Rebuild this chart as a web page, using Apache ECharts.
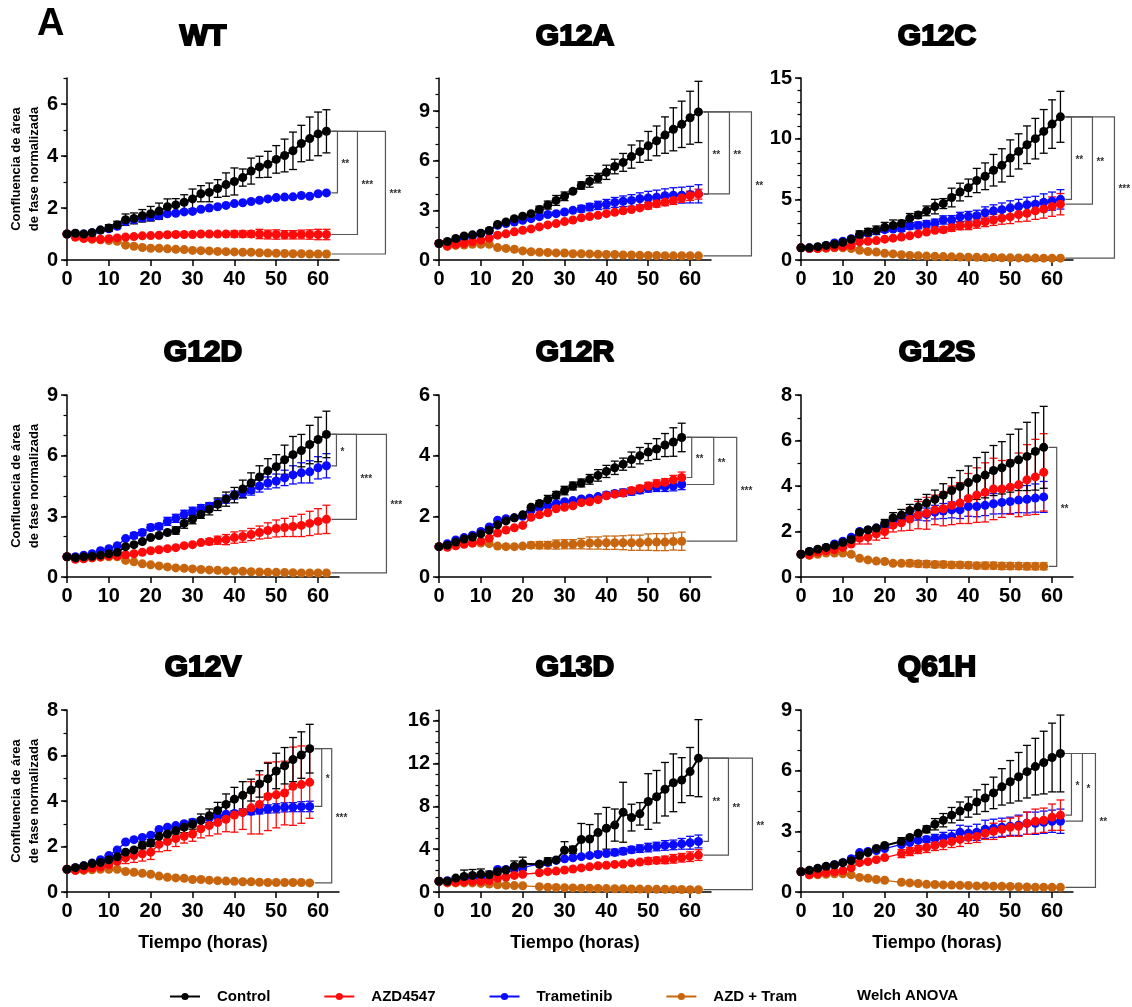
<!DOCTYPE html>
<html><head><meta charset="utf-8">
<script src="https://cdn.jsdelivr.net/npm/echarts@6/dist/echarts.min.js"></script>
<style>html,body{margin:0;padding:0;background:#fff}#c{width:1132px;height:1007px}</style>
</head><body><div id="c"></div>
<script>
// ---------- time points ----------
const T62 = [0,2,4,6,8,10,12,14,16,18,20,22,24,26,28,30,32,34,36,38,40,42,44,46,48,50,52,54,56,58,60,62];
const T58 = [0,2,4,6,8,10,12,14,16,18,20,22,24,26,28,30,32,34,36,38,40,42,44,46,48,50,52,54,56,58];
const T62_no22 = [0,2,4,6,8,10,12,14,16,18,20,24,26,28,30,32,34,36,38,40,42,44,46,48,50,52,54,56,58,60,62];
const xTicks = [0,10,20,30,40,50,60];

// ---------- WT ----------
const wt_ctl = [1.0,1.03,1.0,1.05,1.15,1.23,1.35,1.55,1.6,1.7,1.78,1.88,2.05,2.12,2.22,2.35,2.55,2.6,2.75,2.9,3.02,3.17,3.42,3.58,3.68,3.87,4.02,4.2,4.48,4.67,4.85,4.95];
const wt_ctl_err = [0.03,0.03,0.03,0.04,0.05,0.13,0.14,0.22,0.21,0.24,0.28,0.31,0.3,0.24,0.29,0.38,0.31,0.36,0.34,0.45,0.52,0.33,0.5,0.41,0.5,0.53,0.63,0.72,0.7,0.83,0.84,0.83];
const wt_tra = [1.0,1.02,1.0,1.05,1.15,1.2,1.3,1.48,1.55,1.62,1.65,1.7,1.78,1.8,1.85,1.87,1.95,2.0,2.05,2.1,2.17,2.2,2.25,2.3,2.35,2.4,2.42,2.43,2.48,2.45,2.55,2.58];
const wt_tra_err = [0.03,0.03,0.03,0.03,0.04,0.05,0.06,0.08,0.1,0.12,0.13,0.12,0.06,0.06,0.1,0.08,0.06,0.08,0.08,0.08,0.06,0.06,0.05,0.06,0.06,0.06,0.06,0.06,0.06,0.1,0.06,0.06];
const wt_azd = [1.0,0.88,0.83,0.82,0.8,0.82,0.85,0.88,0.9,0.93,0.94,0.95,0.97,0.98,0.98,0.98,1.0,1.0,1.0,1.0,1.0,1.0,1.0,1.0,0.98,0.98,0.97,0.97,0.98,0.98,0.98,0.98];
const wt_azd_err = [0.02,0.03,0.04,0.05,0.06,0.08,0.1,0.1,0.1,0.1,0.1,0.1,0.08,0.08,0.08,0.08,0.08,0.08,0.08,0.1,0.12,0.12,0.12,0.18,0.17,0.18,0.16,0.16,0.17,0.18,0.2,0.2];
const wt_cmb = [1.0,0.88,0.83,0.8,0.78,0.75,0.72,0.57,0.53,0.48,0.45,0.45,0.43,0.41,0.4,0.37,0.36,0.35,0.33,0.32,0.31,0.3,0.3,0.28,0.27,0.26,0.25,0.24,0.24,0.23,0.23,0.23];
const wt_cmb_err = [0.02,0.03,0.03,0.03,0.03,0.04,0.04,0.04,0.04,0.03,0.03,0.03,0.03,0.03,0.03,0.03,0.03,0.03,0.03,0.03,0.03,0.03,0.03,0.03,0.03,0.03,0.03,0.03,0.03,0.03,0.03,0.03];
const wt_yTicks = [0,2,4,6];
const wt_sig = [['tra','**'],['azd','***'],['cmb','***']];

// ---------- G12A ----------
const g12a_ctl = [1.0,1.12,1.3,1.45,1.52,1.62,1.78,2.15,2.3,2.5,2.65,2.8,3.05,3.32,3.6,3.85,4.15,4.5,4.75,4.95,5.3,5.65,5.9,6.25,6.55,6.9,7.2,7.55,7.9,8.2,8.6,8.95];
const g12a_ctl_err = [0.05,0.06,0.08,0.08,0.08,0.08,0.1,0.1,0.12,0.12,0.14,0.16,0.2,0.24,0.3,0.26,0.16,0.22,0.35,0.29,0.43,0.44,0.54,0.7,0.65,0.87,0.9,1.1,1.3,1.4,1.6,1.85];
const g12a_tra = [1.0,1.05,1.15,1.3,1.45,1.6,1.75,2.1,2.2,2.3,2.4,2.5,2.62,2.75,2.8,2.9,3.0,3.1,3.2,3.3,3.38,3.48,3.55,3.6,3.7,3.75,3.8,3.88,3.92,3.92,3.95,4.0];
const g12a_tra_err = [0.03,0.04,0.05,0.05,0.06,0.06,0.07,0.08,0.08,0.1,0.1,0.12,0.12,0.12,0.14,0.15,0.18,0.2,0.22,0.25,0.28,0.3,0.32,0.35,0.36,0.4,0.42,0.42,0.45,0.48,0.5,0.55];
const g12a_azd = [1.0,0.85,0.95,1.0,1.1,1.2,1.32,1.5,1.58,1.7,1.8,1.88,2.0,2.12,2.2,2.32,2.42,2.55,2.63,2.7,2.8,2.88,2.98,3.05,3.15,3.28,3.4,3.5,3.6,3.75,3.88,3.98];
const g12a_azd_err = [0.02,0.03,0.03,0.04,0.04,0.05,0.05,0.06,0.06,0.06,0.07,0.07,0.08,0.08,0.08,0.08,0.09,0.1,0.1,0.1,0.1,0.12,0.14,0.15,0.17,0.2,0.2,0.22,0.24,0.26,0.28,0.3];
const g12a_cmb = [1.0,0.82,0.88,0.9,0.95,0.95,0.95,0.75,0.7,0.65,0.55,0.5,0.47,0.45,0.43,0.42,0.38,0.38,0.37,0.35,0.33,0.33,0.3,0.3,0.28,0.27,0.27,0.26,0.25,0.26,0.26,0.25];
const g12a_cmb_err = [0.02,0.03,0.03,0.03,0.03,0.03,0.03,0.03,0.03,0.03,0.03,0.03,0.03,0.03,0.03,0.03,0.03,0.03,0.03,0.03,0.03,0.03,0.03,0.03,0.03,0.03,0.03,0.03,0.03,0.03,0.03,0.03];
const g12a_yTicks = [0,3,6,9];
const g12a_sig = [['azd','**'],['tra','**'],['cmb','**']];

// ---------- G12C ----------
const g12c_ctl = [1.0,1.0,1.1,1.2,1.3,1.45,1.7,2.1,2.3,2.45,2.7,2.85,3.0,3.45,3.7,4.05,4.4,4.65,5.15,5.6,5.95,6.55,6.9,7.4,7.8,8.4,8.95,9.5,10.0,10.6,11.2,11.8];
const g12c_ctl_err = [0.05,0.06,0.08,0.1,0.1,0.12,0.15,0.3,0.3,0.35,0.4,0.45,0.28,0.38,0.27,0.4,0.6,0.41,0.77,0.73,0.72,1.0,1.1,1.3,1.37,1.5,1.45,1.55,1.67,1.8,2.0,2.1];
const g12c_tra = [1.0,1.0,1.05,1.2,1.4,1.55,1.75,2.05,2.2,2.4,2.5,2.55,2.6,2.8,2.85,2.95,3.05,3.3,3.3,3.55,3.6,3.65,3.9,4.05,4.15,4.3,4.4,4.55,4.6,4.75,4.85,5.0];
const g12c_tra_err = [0.03,0.04,0.05,0.06,0.08,0.1,0.12,0.15,0.16,0.18,0.2,0.22,0.25,0.26,0.28,0.3,0.32,0.34,0.36,0.38,0.4,0.45,0.48,0.5,0.55,0.58,0.6,0.62,0.65,0.7,0.75,0.8];
const g12c_azd = [1.0,0.95,0.95,1.0,1.05,1.1,1.2,1.5,1.55,1.6,1.72,1.8,1.9,2.0,2.15,2.3,2.45,2.5,2.65,2.8,2.85,3.0,3.15,3.3,3.45,3.55,3.75,3.85,4.05,4.2,4.4,4.6];
const g12c_azd_err = [0.02,0.03,0.04,0.05,0.06,0.06,0.08,0.1,0.1,0.12,0.14,0.14,0.15,0.16,0.18,0.2,0.22,0.25,0.28,0.3,0.35,0.38,0.4,0.45,0.5,0.55,0.6,0.65,0.7,0.75,0.8,0.88];
const g12c_cmb = [1.0,0.95,0.95,0.97,1.0,1.0,0.95,0.8,0.7,0.65,0.55,0.5,0.43,0.38,0.35,0.32,0.3,0.28,0.26,0.25,0.23,0.22,0.2,0.2,0.19,0.18,0.17,0.16,0.16,0.15,0.15,0.15];
const g12c_cmb_err = [0.02,0.03,0.03,0.03,0.03,0.03,0.03,0.03,0.03,0.03,0.03,0.03,0.03,0.03,0.03,0.03,0.03,0.03,0.03,0.03,0.03,0.03,0.03,0.03,0.03,0.03,0.03,0.03,0.03,0.03,0.03,0.03];
const g12c_yTicks = [0,5,10,15];
const g12c_sig = [['tra','**'],['azd','**'],['cmb','***']];

// ---------- G12D ----------
const g12d_ctl = [1.0,0.95,1.0,1.02,1.08,1.15,1.22,1.5,1.6,1.75,1.95,2.05,2.2,2.3,2.65,2.85,3.1,3.35,3.6,3.85,4.05,4.35,4.65,4.95,5.25,5.45,5.8,6.05,6.25,6.55,6.8,7.05];
const g12d_ctl_err = [0.03,0.04,0.05,0.05,0.05,0.06,0.06,0.06,0.06,0.07,0.08,0.1,0.11,0.18,0.24,0.22,0.2,0.28,0.31,0.35,0.38,0.44,0.5,0.55,0.6,0.6,0.72,0.9,0.8,0.95,1.1,1.15];
const g12d_tra = [1.0,1.0,1.08,1.15,1.3,1.4,1.55,1.9,2.05,2.2,2.45,2.5,2.75,2.9,3.1,3.25,3.4,3.5,3.65,3.85,4.05,4.15,4.3,4.5,4.65,4.75,4.9,5.05,5.15,5.2,5.4,5.5];
const g12d_tra_err = [0.03,0.04,0.05,0.06,0.07,0.08,0.1,0.1,0.15,0.15,0.15,0.15,0.2,0.2,0.2,0.2,0.18,0.18,0.2,0.2,0.2,0.22,0.25,0.3,0.3,0.34,0.38,0.45,0.5,0.55,0.55,0.6];
const g12d_azd = [1.0,0.88,0.9,0.95,1.0,1.05,1.05,1.1,1.15,1.22,1.3,1.35,1.4,1.45,1.55,1.6,1.7,1.75,1.82,1.85,1.95,2.0,2.1,2.2,2.3,2.4,2.45,2.5,2.55,2.65,2.75,2.85];
const g12d_azd_err = [0.02,0.03,0.03,0.04,0.04,0.05,0.05,0.05,0.06,0.06,0.07,0.07,0.08,0.08,0.1,0.12,0.13,0.15,0.2,0.25,0.28,0.28,0.3,0.32,0.38,0.42,0.45,0.5,0.55,0.6,0.63,0.7];
const g12d_cmb = [1.0,0.9,0.92,0.95,0.98,1.0,1.0,0.82,0.75,0.65,0.6,0.55,0.5,0.45,0.43,0.4,0.37,0.35,0.33,0.3,0.3,0.28,0.26,0.25,0.24,0.23,0.22,0.21,0.2,0.2,0.2,0.2];
const g12d_cmb_err = [0.02,0.03,0.03,0.03,0.03,0.03,0.03,0.03,0.03,0.03,0.03,0.03,0.03,0.03,0.03,0.03,0.03,0.03,0.03,0.03,0.03,0.03,0.03,0.03,0.03,0.03,0.03,0.03,0.03,0.03,0.03,0.03];
const g12d_yTicks = [0,3,6,9];
const g12d_sig = [['tra','*'],['azd','***'],['cmb','***']];

// ---------- G12R ----------
const g12r_ctl = [1.0,1.05,1.15,1.25,1.32,1.42,1.55,1.72,1.85,1.95,2.05,2.3,2.42,2.55,2.7,2.85,3.0,3.1,3.22,3.35,3.48,3.6,3.72,3.87,4.0,4.12,4.22,4.35,4.45,4.6];
const g12r_ctl_err = [0.03,0.04,0.04,0.05,0.05,0.05,0.05,0.06,0.06,0.06,0.07,0.08,0.1,0.14,0.12,0.14,0.13,0.13,0.16,0.19,0.2,0.22,0.2,0.25,0.27,0.28,0.34,0.38,0.47,0.47];
const g12r_tra = [1.0,1.1,1.22,1.3,1.38,1.5,1.65,1.87,1.92,1.95,2.0,2.2,2.28,2.35,2.42,2.48,2.52,2.57,2.6,2.65,2.7,2.75,2.78,2.82,2.87,2.92,2.95,2.97,3.0,3.05];
const g12r_tra_err = [0.03,0.03,0.04,0.04,0.05,0.05,0.05,0.05,0.05,0.06,0.08,0.06,0.06,0.06,0.07,0.07,0.07,0.08,0.08,0.08,0.1,0.1,0.12,0.12,0.12,0.12,0.13,0.15,0.16,0.17];
const g12r_azd = [1.0,0.98,1.03,1.08,1.12,1.18,1.28,1.45,1.55,1.62,1.7,1.97,2.05,2.12,2.25,2.3,2.35,2.45,2.48,2.55,2.68,2.73,2.77,2.85,2.92,3.0,3.08,3.12,3.2,3.28];
const g12r_azd_err = [0.02,0.02,0.03,0.03,0.03,0.03,0.04,0.04,0.04,0.04,0.05,0.05,0.05,0.05,0.05,0.05,0.05,0.05,0.05,0.05,0.06,0.08,0.08,0.1,0.1,0.12,0.12,0.12,0.15,0.18];
const g12r_cmb = [1.0,1.03,1.08,1.1,1.12,1.12,1.1,1.02,1.0,1.0,1.02,1.05,1.05,1.05,1.07,1.08,1.08,1.1,1.12,1.12,1.13,1.13,1.13,1.13,1.13,1.15,1.15,1.15,1.17,1.18];
const g12r_cmb_err = [0.02,0.02,0.03,0.03,0.03,0.03,0.03,0.03,0.03,0.04,0.05,0.1,0.12,0.12,0.15,0.15,0.15,0.17,0.2,0.2,0.22,0.22,0.23,0.25,0.25,0.27,0.28,0.28,0.28,0.3];
const g12r_yTicks = [0,2,4,6];
const g12r_sig = [['azd','**'],['tra','**'],['cmb','***']];

// ---------- G12S ----------
const g12s_ctl = [1.0,1.12,1.22,1.3,1.4,1.52,1.65,1.97,2.07,2.15,2.35,2.6,2.72,2.92,3.08,3.25,3.42,3.6,3.8,3.98,4.15,4.33,4.48,4.68,4.8,5.0,5.15,5.3,5.52,5.7];
const g12s_ctl_err = [0.03,0.04,0.04,0.05,0.05,0.05,0.06,0.06,0.08,0.1,0.18,0.23,0.25,0.27,0.33,0.38,0.4,0.5,0.57,0.7,0.73,0.92,1.0,1.1,1.15,1.27,1.35,1.5,1.7,1.8];
const g12s_tra = [1.0,1.12,1.2,1.3,1.45,1.57,1.75,2.0,2.07,2.15,2.25,2.45,2.55,2.62,2.7,2.75,2.85,2.9,2.95,2.95,3.1,3.1,3.15,3.22,3.28,3.32,3.38,3.42,3.47,3.52];
const g12s_tra_err = [0.03,0.03,0.04,0.04,0.05,0.05,0.06,0.06,0.06,0.06,0.08,0.1,0.12,0.15,0.2,0.28,0.3,0.33,0.35,0.38,0.43,0.45,0.45,0.45,0.5,0.53,0.55,0.6,0.62,0.68];
const g12s_azd = [1.0,0.98,1.1,1.15,1.2,1.3,1.45,1.7,1.75,1.9,2.0,2.28,2.38,2.55,2.72,2.8,2.95,3.0,3.15,3.25,3.45,3.6,3.72,3.87,3.87,3.95,4.05,4.27,4.4,4.6];
const g12s_azd_err = [0.02,0.03,0.04,0.05,0.06,0.08,0.1,0.25,0.3,0.28,0.3,0.3,0.35,0.5,0.6,0.7,0.65,0.75,0.85,0.9,1.1,1.2,1.3,1.35,1.25,1.2,1.4,1.55,1.65,1.7];
const g12s_cmb = [1.0,0.95,1.0,1.05,1.05,1.05,1.0,0.82,0.75,0.7,0.68,0.6,0.6,0.6,0.58,0.57,0.55,0.55,0.53,0.53,0.52,0.5,0.5,0.5,0.48,0.48,0.48,0.47,0.47,0.47];
const g12s_cmb_err = [0.02,0.02,0.03,0.03,0.03,0.03,0.03,0.03,0.03,0.03,0.04,0.12,0.13,0.14,0.14,0.15,0.14,0.14,0.14,0.14,0.14,0.14,0.15,0.15,0.15,0.15,0.15,0.15,0.15,0.15];
const g12s_yTicks = [0,2,4,6,8];
const g12s_sig = [['cmb','**']];

// ---------- G12V ----------
const g12v_ctl = [1.0,1.07,1.15,1.25,1.3,1.42,1.55,1.75,1.85,2.05,2.15,2.45,2.55,2.7,2.85,2.98,3.15,3.35,3.58,3.85,4.08,4.25,4.48,4.75,4.98,5.32,5.55,5.82,6.02,6.3];
const g12v_ctl_err = [0.03,0.04,0.04,0.05,0.05,0.06,0.08,0.1,0.1,0.15,0.15,0.12,0.25,0.15,0.24,0.22,0.28,0.3,0.36,0.46,0.52,0.6,0.48,0.58,0.68,0.78,0.8,0.97,1.02,1.07];
const g12v_tra = [1.0,1.07,1.15,1.27,1.42,1.6,1.85,2.2,2.3,2.4,2.5,2.75,2.85,2.92,3.0,3.07,3.15,3.25,3.33,3.42,3.45,3.5,3.55,3.6,3.65,3.68,3.72,3.73,3.75,3.76];
const g12v_tra_err = [0.03,0.03,0.04,0.04,0.05,0.05,0.06,0.06,0.06,0.07,0.08,0.12,0.12,0.1,0.1,0.1,0.1,0.1,0.1,0.12,0.12,0.12,0.15,0.17,0.18,0.2,0.2,0.2,0.22,0.23];
const g12v_azd = [1.0,0.95,1.0,1.05,1.1,1.2,1.35,1.5,1.6,1.68,1.75,2.1,2.22,2.35,2.45,2.55,2.78,2.92,3.05,3.2,3.38,3.5,3.7,3.85,4.2,4.27,4.35,4.65,4.72,4.82];
const g12v_azd_err = [0.02,0.03,0.04,0.05,0.06,0.08,0.1,0.25,0.3,0.32,0.32,0.33,0.4,0.35,0.3,0.32,0.4,0.45,0.5,0.55,0.75,0.75,1.15,1.3,1.5,1.45,1.4,1.72,1.7,1.58];
const g12v_cmb = [1.0,0.95,0.95,0.98,1.0,1.0,1.0,0.9,0.87,0.82,0.78,0.7,0.65,0.62,0.6,0.55,0.55,0.52,0.5,0.48,0.47,0.45,0.45,0.43,0.42,0.42,0.42,0.42,0.42,0.4];
const g12v_cmb_err = [0.02,0.04,0.05,0.05,0.06,0.07,0.1,0.1,0.12,0.12,0.12,0.13,0.13,0.12,0.12,0.11,0.1,0.1,0.1,0.1,0.1,0.1,0.1,0.1,0.1,0.1,0.1,0.1,0.1,0.1];
const g12v_yTicks = [0,2,4,6,8];
const g12v_sig = [['tra','*'],['cmb','***']];

// ---------- G13D ----------
const g13d_ctl = [1.0,1.0,1.3,1.45,1.55,1.65,1.6,1.9,2.05,2.4,2.65,2.6,2.85,3.0,3.9,3.95,4.9,4.95,5.55,5.95,6.25,7.45,6.95,7.3,8.45,8.9,9.6,10.2,10.45,11.25,12.5];
const g13d_ctl_err = [0.05,0.1,0.2,0.6,0.55,0.5,0.35,0.3,0.2,0.5,0.6,0.25,0.35,0.2,0.8,0.33,1.5,1.35,1.75,1.95,1.5,2.8,1.25,1.05,2.6,2.45,2.5,2.7,2.1,2.25,3.6];
const g13d_tra = [1.0,1.05,1.1,1.2,1.3,1.4,1.6,2.1,2.1,2.2,2.3,2.6,2.75,2.95,3.1,3.2,3.3,3.4,3.5,3.6,3.7,3.8,3.95,4.05,4.15,4.25,4.35,4.4,4.5,4.6,4.72];
const g13d_tra_err = [0.03,0.05,0.06,0.08,0.1,0.12,0.14,0.15,0.2,0.2,0.3,0.15,0.15,0.15,0.2,0.2,0.2,0.2,0.25,0.25,0.3,0.3,0.3,0.35,0.4,0.4,0.45,0.45,0.5,0.6,0.6];
const g13d_azd = [1.0,0.9,0.9,0.95,1.0,1.0,1.05,1.3,1.4,1.55,1.65,1.8,1.9,1.95,2.05,2.15,2.25,2.35,2.45,2.5,2.58,2.62,2.72,2.8,2.9,2.95,3.0,3.1,3.2,3.3,3.45];
const g13d_azd_err = [0.02,0.03,0.03,0.04,0.04,0.05,0.05,0.06,0.06,0.06,0.07,0.07,0.08,0.08,0.08,0.08,0.08,0.1,0.1,0.1,0.12,0.15,0.25,0.25,0.3,0.3,0.35,0.4,0.4,0.45,0.5];
const g13d_cmb = [1.0,0.85,0.85,0.85,0.85,0.8,0.75,0.68,0.62,0.6,0.58,0.5,0.45,0.42,0.4,0.38,0.36,0.35,0.33,0.32,0.3,0.3,0.28,0.27,0.26,0.25,0.25,0.24,0.23,0.22,0.22];
const g13d_cmb_err = [0.02,0.03,0.03,0.03,0.03,0.03,0.03,0.03,0.03,0.03,0.03,0.03,0.03,0.03,0.03,0.03,0.03,0.03,0.03,0.03,0.03,0.03,0.03,0.03,0.03,0.03,0.03,0.03,0.03,0.03,0.03];
const g13d_yTicks = [0,4,8,12,16];
const g13d_sig = [['tra','**'],['azd','**'],['cmb','**']];

// ---------- Q61H ----------
const q61h_ctl = [1.0,1.07,1.17,1.27,1.35,1.45,1.55,1.8,1.95,2.15,2.3,2.5,2.7,2.9,3.1,3.35,3.55,3.8,4.0,4.2,4.45,4.65,4.9,5.2,5.45,5.7,5.95,6.2,6.4,6.65,6.85];
const q61h_ctl_err = [0.03,0.04,0.04,0.05,0.05,0.05,0.05,0.06,0.06,0.07,0.08,0.19,0.14,0.12,0.17,0.28,0.33,0.38,0.45,0.5,0.6,0.67,0.78,0.9,1.05,1.2,1.3,1.4,1.55,1.7,1.9];
const q61h_tra = [1.0,1.05,1.15,1.25,1.35,1.45,1.65,1.95,2.0,2.05,2.15,2.35,2.45,2.55,2.6,2.65,2.7,2.75,2.95,2.9,2.95,3.1,3.15,3.2,3.25,3.3,3.4,3.4,3.45,3.5,3.5];
const q61h_tra_err = [0.03,0.03,0.04,0.04,0.05,0.05,0.06,0.06,0.06,0.07,0.12,0.08,0.08,0.1,0.15,0.2,0.25,0.3,0.35,0.35,0.4,0.45,0.45,0.45,0.45,0.5,0.55,0.55,0.55,0.55,0.6];
const q61h_azd = [1.0,0.85,0.9,0.95,1.0,1.05,1.2,1.45,1.5,1.6,1.7,1.9,2.0,2.1,2.2,2.3,2.4,2.5,2.6,2.7,2.75,2.9,3.0,3.1,3.2,3.25,3.4,3.5,3.55,3.7,3.8];
const q61h_azd_err = [0.02,0.03,0.03,0.04,0.04,0.05,0.05,0.06,0.06,0.07,0.08,0.2,0.2,0.2,0.25,0.25,0.3,0.3,0.35,0.3,0.3,0.3,0.4,0.4,0.45,0.5,0.55,0.6,0.6,0.65,0.75];
const q61h_cmb = [1.0,0.85,0.85,0.88,0.9,0.9,0.85,0.72,0.68,0.62,0.58,0.48,0.45,0.42,0.38,0.37,0.35,0.34,0.33,0.32,0.3,0.3,0.29,0.28,0.27,0.26,0.25,0.24,0.24,0.23,0.23];
const q61h_cmb_err = [0.02,0.03,0.03,0.03,0.03,0.03,0.03,0.03,0.03,0.03,0.03,0.03,0.03,0.03,0.03,0.03,0.03,0.03,0.03,0.03,0.03,0.03,0.03,0.03,0.03,0.03,0.03,0.03,0.03,0.03,0.03];
const q61h_yTicks = [0,3,6,9];
const q61h_sig = [['azd','*'],['tra','*'],['cmb','**']];

// ---------- assembling ----------
const NAMES = {ctl:'Control', azd:'AZD4547', tra:'Trametinib', cmb:'AZD + Tram'};
const COLORS = {ctl:'#000000', azd:'#FF0A0A', tra:'#0A0AFF', cmb:'#C8660F'};
const FONT = '"Liberation Sans", Arial, sans-serif';

const panels = [
  {title:'WT',   t:T62, yMax:7,  yTicks:wt_yTicks,   v:{ctl:wt_ctl,azd:wt_azd,tra:wt_tra,cmb:wt_cmb}, e:{ctl:wt_ctl_err,azd:wt_azd_err,tra:wt_tra_err,cmb:wt_cmb_err}, sig:wt_sig},
  {title:'G12A', t:T62, yMax:11, yTicks:g12a_yTicks, v:{ctl:g12a_ctl,azd:g12a_azd,tra:g12a_tra,cmb:g12a_cmb}, e:{ctl:g12a_ctl_err,azd:g12a_azd_err,tra:g12a_tra_err,cmb:g12a_cmb_err}, sig:g12a_sig},
  {title:'G12C', t:T62, yMax:15, yTicks:g12c_yTicks, v:{ctl:g12c_ctl,azd:g12c_azd,tra:g12c_tra,cmb:g12c_cmb}, e:{ctl:g12c_ctl_err,azd:g12c_azd_err,tra:g12c_tra_err,cmb:g12c_cmb_err}, sig:g12c_sig},
  {title:'G12D', t:T62, yMax:9,  yTicks:g12d_yTicks, v:{ctl:g12d_ctl,azd:g12d_azd,tra:g12d_tra,cmb:g12d_cmb}, e:{ctl:g12d_ctl_err,azd:g12d_azd_err,tra:g12d_tra_err,cmb:g12d_cmb_err}, sig:g12d_sig},
  {title:'G12R', t:T58, yMax:6,  yTicks:g12r_yTicks, v:{ctl:g12r_ctl,azd:g12r_azd,tra:g12r_tra,cmb:g12r_cmb}, e:{ctl:g12r_ctl_err,azd:g12r_azd_err,tra:g12r_tra_err,cmb:g12r_cmb_err}, sig:g12r_sig},
  {title:'G12S', t:T58, yMax:8,  yTicks:g12s_yTicks, v:{ctl:g12s_ctl,azd:g12s_azd,tra:g12s_tra,cmb:g12s_cmb}, e:{ctl:g12s_ctl_err,azd:g12s_azd_err,tra:g12s_tra_err,cmb:g12s_cmb_err}, sig:g12s_sig},
  {title:'G12V', t:T58, yMax:8,  yTicks:g12v_yTicks, v:{ctl:g12v_ctl,azd:g12v_azd,tra:g12v_tra,cmb:g12v_cmb}, e:{ctl:g12v_ctl_err,azd:g12v_azd_err,tra:g12v_tra_err,cmb:g12v_cmb_err}, sig:g12v_sig},
  {title:'G13D', t:T62_no22, yMax:17, yTicks:g13d_yTicks, v:{ctl:g13d_ctl,azd:g13d_azd,tra:g13d_tra,cmb:g13d_cmb}, e:{ctl:g13d_ctl_err,azd:g13d_azd_err,tra:g13d_tra_err,cmb:g13d_cmb_err}, sig:g13d_sig},
  {title:'Q61H', t:T62_no22, yMax:9, yTicks:q61h_yTicks, v:{ctl:q61h_ctl,azd:q61h_azd,tra:q61h_tra,cmb:q61h_cmb}, e:{ctl:q61h_ctl_err,azd:q61h_azd_err,tra:q61h_tra_err,cmb:q61h_cmb_err}, sig:q61h_sig}
];

// layout / style
const colLeft = [67, 439, 801];
const rowTop = [78, 395, 710];
const gridW = 272, gridH = 182;
const titleY = [37, 353, 668];
const bracketOffsets = [[11,31,59],[10,31,53],[11,32,54],[10,30,60],[10,32,55],[13],[12,22],[10,30,54],[11,22,35]];

function errRender(color){
  return function(params, api){
    const x = api.value(0), v = api.value(1), e = api.value(2);
    const pT = api.coord([x, v + e]), pB = api.coord([x, v - e]);
    if (pB[1] - pT[1] < 6) return null;
    const cap = 4;
    const st = {stroke: color, lineWidth: 1.3};
    return {type:'group', children:[
      {type:'line', shape:{x1:pT[0], y1:pT[1], x2:pB[0], y2:pB[1]}, style:st},
      {type:'line', shape:{x1:pT[0]-cap, y1:pT[1], x2:pT[0]+cap, y2:pT[1]}, style:st},
      {type:'line', shape:{x1:pB[0]-cap, y1:pB[1], x2:pB[0]+cap, y2:pB[1]}, style:st}
    ]};
  };
}
function bracketRender(offs, labels){
  return function(params, api){
    const i = params.dataIndex;
    const pTop = api.coord([api.value(0), api.value(1)]);
    const pBot = api.coord([api.value(0), api.value(2)]);
    const xs = pTop[0] + 5, xv = pTop[0] + offs[i];
    return {type:'group', children:[
      {type:'polyline', shape:{points:[[xs,pTop[1]],[xv,pTop[1]],[xv,pBot[1]],[xs,pBot[1]]]},
       style:{stroke:'#555', lineWidth:1.2, fill:'none'}},
      {type:'text', style:{text:labels[i], x:xv+4, y:(pTop[1]+pBot[1])/2 + 2, fill:'#333',
       font:'bold 10px ' + FONT, align:'left', verticalAlign:'middle'}}
    ]};
  };
}

const grids = [], xAxes = [], yAxes = [], series = [], graphics = [];
panels.forEach((p, i) => {
  const r = Math.floor(i/3), c = i % 3;
  grids.push({left: colLeft[c], top: rowTop[r], width: gridW, height: gridH});
  xAxes.push({
    gridIndex: i, type:'value', min:0, max:65, interval:10,
    name: r === 2 ? 'Tiempo (horas)' : '', nameLocation:'middle', nameGap: 42,
    nameTextStyle:{fontFamily:FONT, fontSize:18, fontWeight:'bold', color:'#000'},
    axisLine:{lineStyle:{color:'#000', width:1.5}},
    axisTick:{customValues: xTicks, length:6, lineStyle:{color:'#000', width:1.5}},
    axisLabel:{customValues: xTicks, fontFamily:FONT, fontSize:20, fontWeight:'bold', color:'#000', margin:9},
    splitLine:{show:false}
  });
  yAxes.push({
    gridIndex: i, type:'value', position:'left', min:0, max:p.yMax, interval: p.yTicks[1],
    name: c === 0 ? 'Confluencia de área\nde fase normalizada' : '', nameLocation:'middle', nameRotate:90, nameGap: 22,
    nameTextStyle:{fontFamily:FONT, fontSize:13, fontWeight:'bold', color:'#000', lineHeight:18},
    axisLine:{show:true, lineStyle:{color:'#000', width:1.5}},
    axisTick:{show:true, customValues: p.yTicks, length:6, lineStyle:{color:'#000', width:1.5}},
    axisLabel:{customValues: p.yTicks, fontFamily:FONT, fontSize:20, fontWeight:'bold', color:'#000', margin:9},
    splitLine:{show:false}
  });
  yAxes.push({
    gridIndex: i, type:'value', position:'left', min:0, max:p.yMax, interval:1,
    axisLine:{show:false}, axisTick:{show:true, length:3.5, lineStyle:{color:'#000', width:1.2}},
    axisLabel:{show:false}, splitLine:{show:false}
  });
  ['cmb','tra','azd','ctl'].forEach(k => {
    const pts = p.t.map((t, j) => [t, p.v[k][j], p.e[k][j]]);
    series.push({
      type:'custom', name: NAMES[k] + ' SD', xAxisIndex:i, yAxisIndex:2*i, data: pts,
      encode:{x:0, y:1}, renderItem: errRender(COLORS[k]), clip:false, silent:true, z:2
    });
    series.push({
      type:'line', name: NAMES[k], xAxisIndex:i, yAxisIndex:2*i,
      data: pts.map(d => [d[0], d[1]]), symbol:'circle', symbolSize:9, z:2,
      lineStyle:{color: COLORS[k], width: k === 'ctl' ? 2 : 1.3},
      itemStyle:{color: COLORS[k]}, emphasis:{disabled:true}
    });
  });
  const last = p.t.length - 1;
  const tLast = p.t[last];
  const bdata = p.sig.map(s => [tLast, p.v.ctl[last], p.v[s[0]][last]]);
  series.push({
    type:'custom', name:'Welch ANOVA', xAxisIndex:i, yAxisIndex:2*i, data: bdata,
    encode:{x:0, y:[1,2]}, renderItem: bracketRender(bracketOffsets[i], p.sig.map(s => s[1])),
    clip:false, silent:true, z:3
  });
  graphics.push({type:'text', x: colLeft[c] + gridW/2, y: titleY[r],
    style:{text:p.title, font:'bold 30px ' + FONT, fill:'#000', stroke:'#000', lineWidth:2,
      align:'center', verticalAlign:'middle'}});
});
graphics.push({type:'text', x:37, y:25, style:{text:'A', font:'bold 38px ' + FONT, fill:'#000', align:'left', verticalAlign:'middle'}});
graphics.push({type:'text', x:857, y:996, style:{text:'Welch ANOVA', font:'bold 15px ' + FONT, fill:'#000', align:'left', verticalAlign:'middle'}});

const chart = echarts.init(document.getElementById('c'), null, {renderer:'canvas'});
chart.setOption({
  animation:false,
  backgroundColor:'#fff',
  grid: grids, xAxis: xAxes, yAxis: yAxes, series: series,
  legend:{
    data: ['Control','AZD4547','Trametinib','AZD + Tram'], left:164, top:984,
    itemWidth:30, itemHeight:9, itemGap:53, selectedMode:false,
    textStyle:{fontFamily:FONT, fontSize:15, fontWeight:'bold', color:'#000', padding:[0,0,0,12]}
  },
  graphic: graphics
});
</script>
</body></html>
